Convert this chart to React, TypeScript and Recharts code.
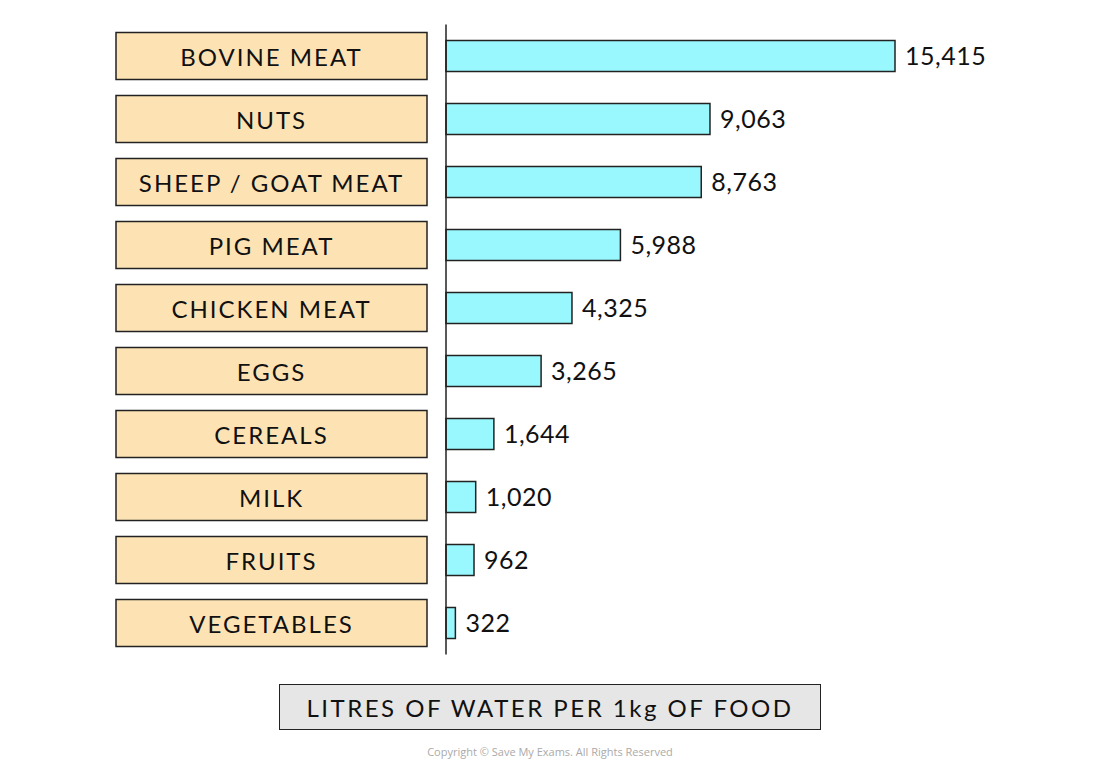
import { BarChart, Bar, XAxis, YAxis, LabelList } from 'recharts';

const categories = [
  'BOVINE MEAT',
  'NUTS',
  'SHEEP / GOAT MEAT',
  'PIG MEAT',
  'CHICKEN MEAT',
  'EGGS',
  'CEREALS',
  'MILK',
  'FRUITS',
  'VEGETABLES',
];
const litres = [15415, 9063, 8763, 5988, 4325, 3265, 1644, 1020, 962, 322];

const data = categories.map((name, i) => ({ name, value: litres[i] }));

const FONT = 'Lato, "Open Sans", sans-serif';

function CategoryTick(props: any) {
  const { y, payload } = props;
  return (
    <g>
      <rect x={116} y={y - 23.5} width={311} height={47} fill="#fde3b4" stroke="#222" strokeWidth={1.5} />
      <text
        x={271.5}
        y={y}
        textAnchor="middle"
        dominantBaseline="central"
        fontSize={24}
        fontFamily={FONT}
        letterSpacing={2}
        fill="#111"
      >
        {payload.value}
      </text>
    </g>
  );
}

export default function App() {
  return (
    <div style={{ position: 'absolute', left: 0, top: 0, width: 1100, height: 772, background: '#fff' }}>
      <BarChart
        width={1100}
        height={772}
        data={data}
        layout="vertical"
        margin={{ top: 24.5, right: 205, bottom: 117.5, left: 116 }}
        style={{ position: 'absolute', left: 0, top: 0 }}
      >
        <XAxis type="number" domain={[0, 15415]} hide />
        <YAxis
          type="category"
          dataKey="name"
          width={330}
          tick={<CategoryTick />}
          tickLine={false}
          axisLine={{ stroke: '#222', strokeWidth: 1.5 }}
        />
        <Bar dataKey="value" fill="#98f8fe" stroke="#222" strokeWidth={1.5} barSize={31} isAnimationActive={false}>
          <LabelList
            dataKey="value"
            position="right"
            offset={10}
            formatter={(v: any) => Number(v).toLocaleString('en-US')}
            style={{ fontSize: 25, fontFamily: FONT, fill: '#111', letterSpacing: 0.5 }}
          />
        </Bar>
      </BarChart>
      <div
        style={{
          position: 'absolute',
          left: 279,
          top: 684,
          width: 540,
          height: 44,
          background: '#e6e6e6',
          border: '1.5px solid #222',
          display: 'flex',
          alignItems: 'center',
          justifyContent: 'center',
          fontFamily: FONT,
          fontSize: 24,
          letterSpacing: 2.5,
          color: '#111',
        }}
      >
        LITRES OF WATER PER 1kg OF FOOD
      </div>
      <div
        style={{
          position: 'absolute',
          left: 0,
          width: 1100,
          top: 744,
          textAlign: 'center',
          fontFamily: '"Open Sans", sans-serif',
          fontSize: 11,
          color: '#aaa',
        }}
      >
        Copyright © Save My Exams. All Rights Reserved
      </div>
    </div>
  );
}
